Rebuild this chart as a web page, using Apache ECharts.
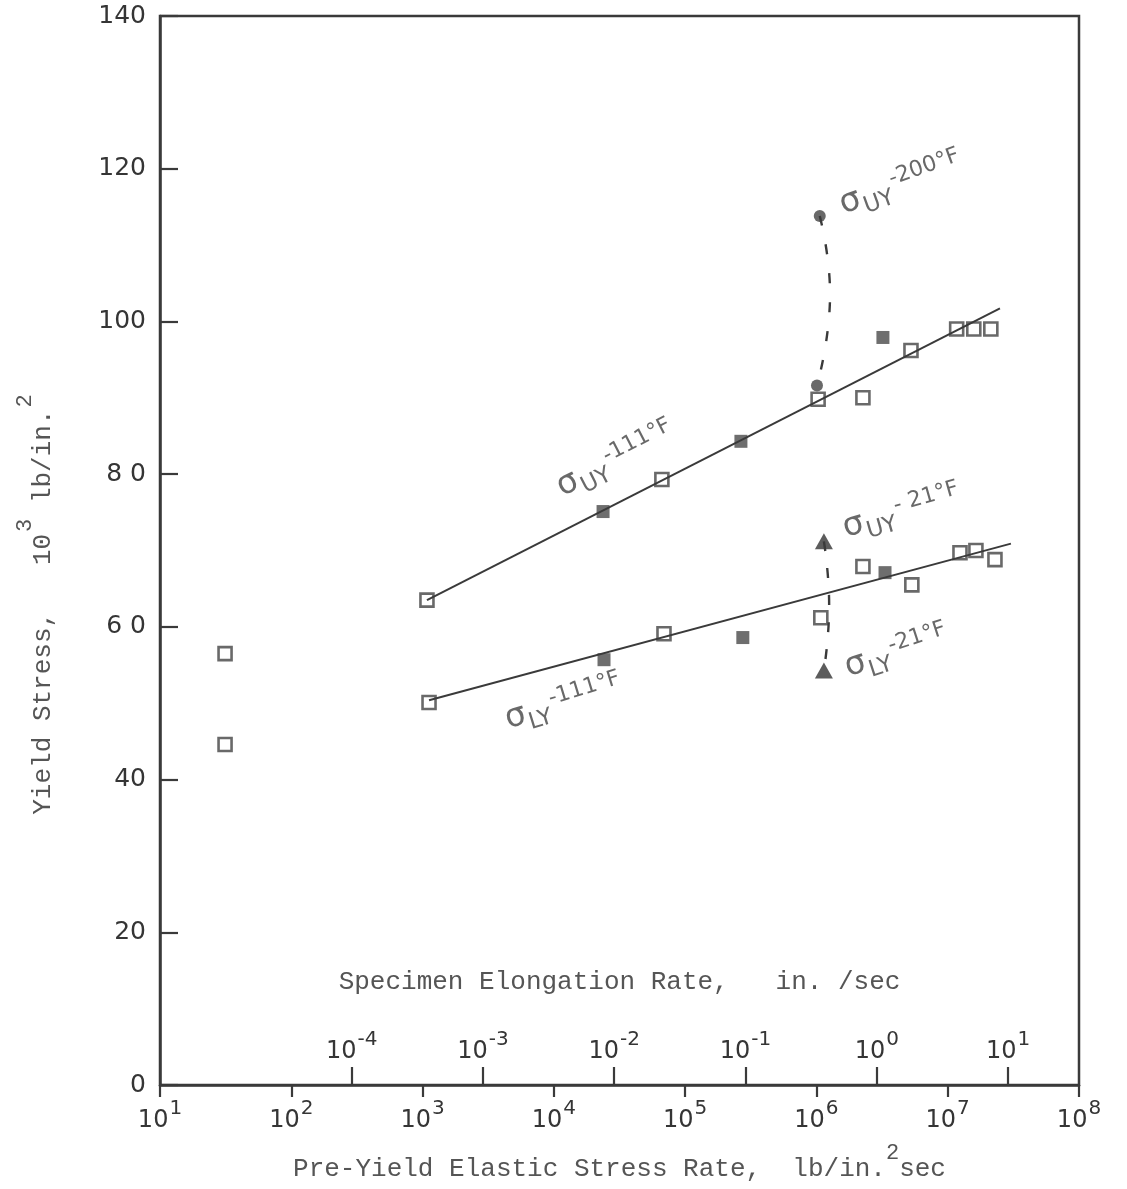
<!DOCTYPE html>
<html>
<head>
<meta charset="utf-8">
<script src="https://cdn.jsdelivr.net/npm/echarts@6/dist/echarts.min.js"></script>
<style>
  html, body { margin: 0; padding: 0; background: #ffffff; }
  #chart { width: 1127px; height: 1189px; }
</style>
</head>
<body>
<div id="chart"></div>
<script>
// ---------------- DATA ----------------
// Pre-yield elastic stress rate (lb/in.^2 sec) vs yield stress (10^3 lb/in.^2)

// Upper yield stress, -111°F
const uy111Rate   = [1.08e3, 2.37e4, 6.65e4, 2.66e5, 1.03e6, 2.26e6, 3.21e6, 5.25e6, 1.17e7, 1.58e7, 2.13e7];
const uy111Stress = [63.5,   75.1,   79.3,   84.3,   89.8,   90.0,   97.9,   96.2,   99.0,   99.0,   99.0];
const uy111Solid  = [0,      1,      0,      1,      0,      0,      1,      0,      0,      0,      0];

// Lower yield stress, -111°F
const ly111Rate   = [1.12e3, 2.41e4, 6.9e4,  2.75e5, 1.08e6, 2.26e6, 3.33e6, 5.33e6, 1.24e7, 1.64e7, 2.29e7];
const ly111Stress = [50.1,   55.7,   59.1,   58.6,   61.2,   67.9,   67.1,   65.5,   69.7,   70.0,   68.8];
const ly111Solid  = [0,      1,      0,      1,      0,      0,      1,      0,      0,      0,      0];

// Fitted lines through the -111°F data
const uy111FitRate   = [1.08e3, 2.5e7];
const uy111FitStress = [63.5,   101.7];
const ly111FitRate   = [1.12e3, 3.03e7];
const ly111FitStress = [50.4,   70.9];

// Upper yield stress, -200°F (circles) and hand-drawn connector
const uy200Rate       = [1.06e6, 1.01e6];
const uy200Stress     = [113.8,  91.6];
const uy200LinkRate   = [1.06e6, 1.27e6, 1.01e6];
const uy200LinkStress = [113.8,  103.6,  91.6];

// Upper / lower yield stress, -21°F (triangles) and connector
const y21Rate       = [1.14e6, 1.14e6];
const y21Stress     = [71.2,   54.3];
const y21LinkRate   = [1.14e6, 1.25e6, 1.14e6];
const y21LinkStress = [71.2,   62.8,   54.3];

// Isolated low-rate points
const lowRate   = [31.3, 31.3];
const lowStress = [56.5, 44.6];

// Axis ticks
const yTicks          = [0, 20, 40, 60, 80, 100, 120, 140];
const yTickLabels     = ['0', '20', '40', '6 0', '8 0', '100', '120', '140'];
const elongExponents  = [-4, -3, -2, -1, 0, 1];   // specimen elongation rate, in./sec
const ELONG_SHIFT     = 6.46;                     // log10(stress rate) - log10(elongation rate)

// ---------------- CHART ----------------
const INK = '#3a3a3a';
const TXT = '#353535';
const TITLE = '#555555';
const HAND = "'DejaVu Sans', 'Liberation Sans', sans-serif";
const TYPE = "'Liberation Mono', 'DejaVu Sans Mono', monospace";

const pairs = (xs, ys) => xs.map((x, i) => [x, ys[i]]);
const pick = (xs, ys, flags, want) => xs.map((x, i) => [x, ys[i], flags[i]]).filter(p => p[2] === want).map(p => [p[0], p[1]]);

const openSquares = [].concat(
  pick(uy111Rate, uy111Stress, uy111Solid, 0),
  pick(ly111Rate, ly111Stress, ly111Solid, 0),
  pairs(lowRate, lowStress)
);
const solidSquares = [].concat(
  pick(uy111Rate, uy111Stress, uy111Solid, 1),
  pick(ly111Rate, ly111Stress, ly111Solid, 1)
);
const gapMasks = [].concat(pairs(uy111Rate, uy111Stress), pairs(ly111Rate, ly111Stress));

const tickRich = {
  b:   { fontFamily: HAND, fontSize: 24, color: TXT, verticalAlign: 'top', padding: [10, 0, 0, 0] },
  sup: { fontFamily: HAND, fontSize: 20, color: TXT, verticalAlign: 'top', padding: [0, 0, 0, 1] }
};

const annRich = {
  s:   { fontFamily: HAND, fontSize: 33, color: '#444', verticalAlign: 'top', padding: [9, 0, 0, 0] },
  sub: { fontFamily: HAND, fontSize: 23, color: '#444', verticalAlign: 'top', padding: [24, 0, 0, 1] },
  sup: { fontFamily: HAND, fontSize: 22, color: '#444', verticalAlign: 'top', padding: [7, 0, 0, 2] }
};

// annotation text anchored at data coordinates (left edge of the sigma)
const annotations = [
  { at: [1.07e4, 78.3],  text: '{s|σ}{sub|UY}{sup|-111°F}', rotate: 27 },
  { at: [4.25e3, 48.0],  text: '{s|σ}{sub|LY}{sup|-111°F}', rotate: 17 },
  { at: [1.51e6, 115.4], text: '{s|σ}{sub|UY}{sup|-200°F}', rotate: 20 },
  { at: [1.59e6, 73.1],  text: '{s|σ}{sub|UY}{sup|- 21°F}', rotate: 16 },
  { at: [1.65e6, 54.8],  text: '{s|σ}{sub|LY}{sup|-21°F}',  rotate: 18 }
];

const chart = echarts.init(document.getElementById('chart'), null, { renderer: 'canvas' });

const option = {
  animation: false,
  backgroundColor: '#ffffff',
  grid: {
    left: 160, right: 48, top: 16, bottom: 104,
    show: true, borderColor: INK, borderWidth: 2.5, backgroundColor: 'transparent',
    containLabel: false, outerBoundsMode: 'none'
  },
  xAxis: [
    {
      type: 'log', logBase: 10, min: 10, max: 1e8, position: 'bottom',
      axisLine: { show: true, onZero: false, lineStyle: { color: INK, width: 2.5 } },
      axisTick: { show: true, inside: false, length: 12, lineStyle: { color: INK, width: 2.2 } },
      axisLabel: {
        margin: 14,
        formatter: v => '{b|10}{sup|' + Math.round(Math.log10(v)) + '}',
        rich: tickRich
      },
      splitLine: { show: false },
      minorTick: { show: false },
      name: '{t|Pre-Yield Elastic Stress Rate,  lb/in.}{sup|2}{t|sec}',
      nameLocation: 'middle', nameGap: 57,
      nameTextStyle: {
        rich: {
          t:   { fontFamily: TYPE, fontSize: 26, color: TITLE, verticalAlign: 'top', padding: [14, 0, 0, 0] },
          sup: { fontFamily: TYPE, fontSize: 22, color: TITLE, verticalAlign: 'top', padding: [0, 0, 0, 0] }
        }
      }
    },
    {
      type: 'value', position: 'bottom',
      min: 1 - ELONG_SHIFT, max: 8 - ELONG_SHIFT,
      axisLine: { show: false, onZero: false },
      axisTick: { show: true, inside: true, length: 18, customValues: elongExponents, lineStyle: { color: INK, width: 2.2 } },
      axisLabel: {
        inside: true, margin: 21, customValues: elongExponents,
        formatter: v => '{b|10}{sup|' + v + '}',
        rich: tickRich
      },
      splitLine: { show: false },
      name: 'Specimen Elongation Rate,   in. /sec',
      nameLocation: 'middle', nameGap: -116, nameMoveOverlap: false,
      nameTextStyle: { fontFamily: TYPE, fontSize: 26, color: TITLE }
    }
  ],
  yAxis: {
    type: 'value', min: 0, max: 140, interval: 20,
    axisLine: { show: true, onZero: false, lineStyle: { color: INK, width: 2.5 } },
    axisTick: { show: true, inside: true, length: 18, lineStyle: { color: INK, width: 2.2 } },
    axisLabel: {
      margin: 14, fontFamily: HAND, fontSize: 25, color: TXT,
      formatter: v => yTickLabels[yTicks.indexOf(v)]
    },
    splitLine: { show: false },
    name: '{t|Yield Stress,   10}{sup|3}{t| lb/in.}{sup|2}',
    nameLocation: 'middle', nameGap: 104,
    nameTextStyle: {
      padding: [0, 108, 0, 0],
      rich: {
        t:   { fontFamily: TYPE, fontSize: 26, color: TITLE, verticalAlign: 'top', padding: [16, 0, 0, 0] },
        sup: { fontFamily: TYPE, fontSize: 22, color: TITLE, verticalAlign: 'top', padding: [0, 0, 0, 2] }
      }
    }
  },
  series: [
    {
      name: 'σUY -111°F fit', type: 'line', data: pairs(uy111FitRate, uy111FitStress),
      showSymbol: false, symbol: 'none', silent: true,
      lineStyle: { color: INK, width: 2 }
    },
    {
      name: 'σLY -111°F fit', type: 'line', data: pairs(ly111FitRate, ly111FitStress),
      showSymbol: false, symbol: 'none', silent: true,
      lineStyle: { color: INK, width: 2 }
    },
    {
      name: 'gaps', type: 'scatter', data: gapMasks, symbol: 'rect', symbolSize: 27,
      itemStyle: { color: '#ffffff', opacity: 1 }, silent: true
    },
    {
      name: 'σUY -200°F link', type: 'line', data: pairs(uy200LinkRate, uy200LinkStress),
      smooth: true, showSymbol: false, symbol: 'none', silent: true,
      lineStyle: { color: INK, width: 2.4, type: [10, 19] }
    },
    {
      name: '-21°F link', type: 'line', data: pairs(y21LinkRate, y21LinkStress),
      smooth: true, showSymbol: false, symbol: 'none', silent: true,
      lineStyle: { color: INK, width: 2.4, type: [10, 17] }
    },
    {
      name: 'σUY -200°F', type: 'scatter', data: pairs(uy200Rate, uy200Stress),
      symbol: 'circle', symbolSize: 12, itemStyle: { color: '#444' }
    },
    {
      name: 'open', type: 'scatter', data: openSquares, symbol: 'rect', symbolSize: 13,
      itemStyle: { color: '#ffffff', borderColor: '#444', borderWidth: 2.6 }
    },
    {
      name: 'solid', type: 'scatter', data: solidSquares, symbol: 'rect', symbolSize: 13,
      itemStyle: { color: '#4a4a4a' }
    },
    {
      name: '-21°F', type: 'scatter', data: pairs(y21Rate, y21Stress),
      symbol: 'triangle', symbolSize: [18, 16], itemStyle: { color: '#333' }
    },
    {
      name: 'annotations', type: 'scatter', symbolSize: 0, silent: true,
      data: annotations.map(a => ({
        value: a.at,
        label: { show: true, position: 'right', distance: 0, rotate: a.rotate, formatter: a.text, rich: annRich }
      })),
      label: { show: true }
    }
  ]
};

chart.setOption(option);
</script>
</body>
</html>
